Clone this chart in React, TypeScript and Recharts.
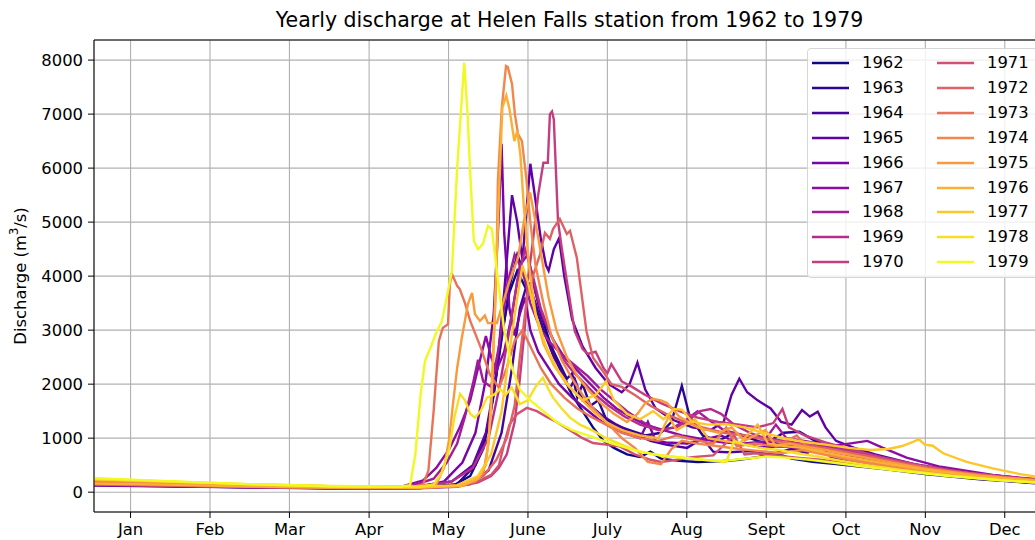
import React from "react";
import { LineChart, Line, XAxis, YAxis, CartesianGrid, ReferenceLine } from "recharts";

// day-of-year, discharge (m3/s)
const Y1962 = [[1,150],[32,120],[60,95],[91,75],[120,70],[138,110],[145,300],[150,800],[154,1800],[157,2900],[160,3700],[163,4100],[166,3800],[169,3900],[172,3300],[176,2700],[180,2200],[184,1800],[188,1500],[192,1200],[196,950],[200,820],[205,700],[210,650],[214,750],[218,620],[225,580],[232,560],[240,570],[248,600],[255,650],[262,720],[268,620],[276,560],[285,520],[295,470],[305,420],[320,330],[340,240],[365,160]];
const Y1963 = [[1,170],[32,135],[60,105],[91,85],[122,80],[140,150],[147,500],[152,1200],[156,2500],[160,3800],[163,4400],[166,4000],[170,3400],[174,2900],[178,2500],[182,2100],[184,2200],[186,1750],[188,2000],[191,1600],[194,1700],[197,1350],[200,1250],[206,1150],[212,1050],[218,1100],[222,1300],[226,1970],[229,1400],[234,1050],[240,950],[246,1100],[252,1000],[258,900],[265,1100],[271,1120],[277,950],[285,780],[295,650],[305,560],[320,420],[340,290],[365,190]];
const Y1964 = [[1,130],[32,110],[60,90],[91,70],[125,70],[145,150],[152,400],[157,1100],[161,2300],[164,3400],[167,3900],[170,3500],[173,3000],[177,2500],[181,2150],[183,1900],[185,2100],[188,1700],[191,1600],[196,1400],[201,1250],[207,1100],[214,950],[220,880],[228,820],[234,1000],[238,750],[244,740],[252,760],[260,700],[268,800],[274,720],[278,950],[283,650],[293,560],[305,470],[320,370],[340,250],[365,150]];
const Y1965 = [[1,140],[32,115],[60,92],[91,75],[120,80],[138,200],[146,500],[151,1100],[155,2200],[158,3700],[161,5500],[163,5000],[165,4300],[166,4900],[168,6080],[170,5400],[172,4700],[174,4200],[175,4100],[177,4500],[179,4700],[181,4000],[184,3200],[188,2700],[193,2300],[198,2000],[203,1850],[206,2000],[209,2400],[212,1900],[216,1550],[222,1350],[230,1200],[237,1150],[242,1300],[245,1800],[248,2100],[251,1850],[255,1700],[260,1550],[264,1300],[268,1250],[272,1520],[275,1400],[278,1490],[281,1200],[285,950],[292,820],[300,700],[315,520],[335,360],[365,210]];
const Y1966 = [[1,125],[32,105],[60,88],[91,72],[125,90],[135,200],[142,550],[147,1100],[151,2100],[154,3300],[156,5200],[157,6450],[158,4800],[160,3400],[162,2900],[164,3300],[166,3600],[168,3000],[171,2600],[175,2300],[179,2000],[184,1750],[189,1550],[194,1350],[199,1200],[205,1080],[210,1000],[213,1300],[216,950],[220,920],[228,900],[235,980],[241,1050],[248,900],[256,830],[265,850],[273,780],[282,720],[292,640],[303,540],[318,420],[338,290],[365,170]];
const Y1967 = [[1,170],[32,140],[60,110],[91,88],[118,95],[127,220],[132,450],[137,800],[141,1200],[145,1700],[148,2300],[151,2890],[153,2500],[155,2250],[158,2600],[161,3300],[164,4200],[167,4400],[170,3700],[173,3200],[177,2800],[181,2500],[186,2250],[191,2000],[196,1750],[201,1550],[206,1400],[212,1250],[219,1150],[226,1050],[234,980],[242,920],[250,900],[258,940],[266,870],[274,820],[282,850],[290,900],[297,950],[303,820],[312,640],[325,470],[345,320],[365,200]];
const Y1968 = [[1,200],[32,160],[60,120],[91,95],[122,105],[131,250],[136,550],[140,900],[143,1400],[146,2000],[148,2450],[150,2050],[153,1950],[156,2700],[159,3800],[162,4400],[165,4100],[168,3500],[172,3000],[176,2750],[180,2550],[185,2350],[190,2150],[195,1900],[200,1700],[205,1500],[211,1300],[217,1150],[223,1200],[228,1350],[232,1500],[236,1350],[242,1150],[250,1050],[258,980],[262,1250],[266,1000],[274,940],[283,860],[293,760],[305,620],[320,460],[340,330],[365,230]];
const Y1969 = [[1,180],[32,150],[60,115],[91,90],[125,100],[138,200],[146,450],[152,1000],[156,1900],[160,3000],[163,3900],[166,4500],[169,4000],[172,3400],[176,2900],[180,2500],[184,2250],[188,2050],[193,1800],[198,1600],[204,1400],[210,1250],[217,1150],[224,1200],[229,1350],[233,1500],[237,1540],[241,1450],[246,1250],[252,1100],[258,1000],[265,950],[272,900],[280,840],[290,760],[302,640],[318,480],[338,340],[365,220]];
const Y1970 = [[1,160],[32,130],[60,100],[91,80],[125,70],[140,100],[148,180],[153,300],[156,450],[159,700],[162,1300],[164,2100],[166,3100],[167,3900],[169,4650],[171,5500],[173,6100],[174.7,6100],[175.5,7000],[176.3,7050],[177,6900],[178.6,5020],[180,4530],[182,3900],[185,2980],[188,2650],[190,2560],[193,2600],[196,2300],[197.5,2200],[199,2370],[203,2050],[207,1950],[212,1800],[218,1650],[225,1500],[232,1380],[240,1300],[248,1250],[255,1200],[261,1280],[264.5,1540],[267,1200],[273,1050],[281,920],[290,800],[302,650],[318,490],[338,340],[365,210]];
const Y1971 = [[1,150],[32,125],[60,100],[91,80],[125,75],[140,110],[148,200],[153,320],[156,500],[158,900],[160,1250],[163,1450],[166.7,1560],[170.5,1500],[174,1400],[178,1300],[183,1150],[188,1000],[192,910],[197,880],[202,850],[208,700],[214,600],[218,560],[224,600],[230,650],[238,680],[246,1050],[250,700],[254,720],[262,680],[270,640],[279,600],[288,540],[298,480],[312,400],[330,300],[348,230],[365,170]];
const Y1972 = [[1,140],[32,120],[60,95],[91,78],[125,75],[142,120],[150,300],[155,600],[159,1000],[162,1600],[164,2500],[166.7,3600],[169,4000],[171.7,4400],[173.6,4800],[175.5,4690],[176.7,4870],[179.3,5060],[182,4780],[183.2,4840],[185.8,4340],[187,3900],[189.5,2980],[192,2490],[195.8,2240],[199,2000],[203,1950],[208,1800],[214,1600],[220,1450],[227,1300],[234,1200],[242,1100],[250,1050],[258,980],[266,920],[275,860],[285,780],[296,680],[310,540],[328,400],[348,280],[365,200]];
const Y1973 = [[1,190],[32,150],[60,115],[91,90],[122,85],[127,150],[129,400],[131,1500],[133,2800],[134.5,3040],[136.5,3110],[137.2,3850],[138,4040],[140,3820],[141,3760],[143,3500],[145,3170],[149,2680],[152.5,2180],[156,1930],[159,2300],[162,2800],[165,3000],[168,2700],[172,2300],[176,2000],[181,1750],[186,1550],[191,1400],[197,1250],[203,1100],[210,1000],[217,950],[224,1050],[230,980],[238,900],[243,1200],[247,850],[254,900],[262,850],[270,1050],[275,780],[282,720],[292,620],[305,520],[320,400],[340,280],[365,180]];
const Y1974 = [[1,210],[32,170],[60,130],[91,100],[125,90],[140,110],[147,200],[150,350],[152,900],[153.5,2200],[155,4000],[155.6,5760],[157.1,7120],[158.7,7890],[159.4,7870],[161,7560],[162.1,7000],[163.3,6630],[164.8,6500],[166.5,5800],[168,5000],[170,4200],[173,3500],[176,2900],[180,2450],[184,2100],[188,1800],[193,1500],[198,1250],[203,1000],[208,820],[213,560],[218,520],[222,800],[226,950],[232,900],[240,850],[248,800],[256,760],[264,720],[272,780],[280,700],[290,600],[302,500],[318,390],[338,270],[365,160]];
const Y1975 = [[1,230],[32,180],[60,140],[91,110],[125,100],[132,150],[135,450],[137,1000],[138.4,1630],[140,2300],[141.8,2860],[144.1,3480],[145.7,3690],[146.8,3300],[148.7,3170],[150.6,3270],[151.8,3130],[155.2,3130],[157.5,3500],[160,3900],[163.3,4340],[165.5,5000],[167.9,5550],[170,5000],[172.5,4300],[175,3600],[178,3000],[182,2500],[186,2150],[190,1900],[195,1650],[200,1450],[205,1300],[209,1450],[212,1650],[214.9,1730],[218,1700],[220.3,1650],[225,1400],[232,1200],[240,1100],[245,1200],[250,950],[258,1150],[262,850],[267,900],[272,850],[281,780],[292,680],[305,560],[320,430],[340,310],[365,210]];
const Y1976 = [[1,160],[32,135],[60,105],[91,85],[125,80],[142,120],[148,250],[151,500],[153,1500],[154.5,3500],[156,5500],[157.3,7120],[158.8,7340],[160,7100],[161.1,6750],[161.9,6500],[163,6690],[164.2,6250],[165.5,5300],[167.5,4200],[170,3300],[173,2750],[177,2350],[182,2000],[187,1750],[192,1500],[197,1300],[203,1150],[210,1050],[217,1000],[221,1400],[224,1150],[231,1350],[236,1000],[242,950],[248,900],[255,1250],[259,900],[266,850],[272,820],[280,740],[291,640],[304,530],[320,410],[340,290],[365,190]];
const Y1977 = [[1,240],[32,190],[60,145],[91,110],[125,95],[140,130],[148,300],[153,700],[157,1500],[160,2600],[163,3600],[165,4200],[167,3900],[170,3300],[174,2700],[178,2300],[183,1950],[188,1700],[193,1800],[197,2050],[200,1700],[205,1450],[210,1350],[215,1500],[219,1350],[223,1540],[226,1530],[230,1300],[236,1250],[243,1260],[250,1200],[257,1100],[265,1000],[273,930],[281,880],[290,820],[298,780],[305,800],[310,850],[314,920],[316.7,980],[319,880],[322,860],[326,720],[335,560],[345,440],[355,340],[365,260]];
const Y1978 = [[1,250],[32,195],[60,150],[91,115],[125,100],[131,140],[134,350],[137,800],[139,1400],[141.1,1820],[143,1700],[145,1450],[146.8,1380],[149,1500],[151.4,1750],[154,1800],[156.4,1910],[158.5,1800],[160.9,1940],[164,1630],[167,1700],[170,1950],[172.8,2120],[175,1900],[176.7,1750],[180,1550],[183.2,1380],[187,1250],[192,1140],[197,1000],[202,900],[208,780],[215,700],[222,660],[230,620],[238,580],[243,560],[246,950],[250,880],[256,820],[263,780],[270,720],[278,660],[287,580],[297,500],[310,410],[328,310],[348,220],[365,170]];
const Y1979 = [[1,260],[32,200],[60,150],[91,110],[118,100],[122,130],[124,700],[126,1800],[127.7,2430],[130,2700],[132,2950],[134.2,3170],[136,3600],[138,4100],[140,6000],[142.7,7955],[144,7000],[144.9,6000],[146.4,4650],[148,4500],[149.9,4600],[151.8,4930],[153.3,4870],[155.2,4100],[158,3000],[161,2300],[164,1900],[168,1700],[173,1500],[178,1300],[184,1150],[190,1050],[196,950],[203,850],[210,750],[218,680],[226,640],[234,600],[242,580],[250,620],[258,660],[266,640],[275,600],[285,540],[296,470],[310,390],[328,300],[348,220],[365,170]];

const YEARS = ["1962","1963","1964","1965","1966","1967","1968","1969","1970","1971","1972","1973","1974","1975","1976","1977","1978","1979"];
const SERIES = [Y1962,Y1963,Y1964,Y1965,Y1966,Y1967,Y1968,Y1969,Y1970,Y1971,Y1972,Y1973,Y1974,Y1975,Y1976,Y1977,Y1978,Y1979];
// plasma colormap, 18 steps
const COLORS = ["#0d0887","#2c0594","#48039f","#6001a5","#7705a7","#8d0ca4","#a11c99","#b42d8d","#c43e7f","#d25072","#de6165","#e97357","#f3864a","#f89a3d","#fcaf32","#fcc728","#f7e023","#f0f921"];

const MONTHS = ["Jan","Feb","Mar","Apr","May","June","July","Aug","Sept","Oct","Nov","Dec"];
const MONTH_TICKS = [15,45.4,75.8,106.3,136.7,167.1,197.5,227.9,258.3,288.8,319.2,349.6];
const Y_TICKS = [0,1000,2000,3000,4000,5000,6000,7000,8000];
const Y_MIN = -367;
const Y_MAX = 8372;

const FONT = "DejaVu Sans";
const tickStyle = { fontSize: 16.4, fill: "#000", fontFamily: FONT };

const toPts = (arr: number[][]) => arr.map(([d, v]) => ({ d, v }));

function YLabel() {
  return (
    <text x={20} y={276} transform="rotate(-90 20 276)" textAnchor="middle" dominantBaseline="central"
      fontSize={16.4} fontFamily={FONT} fill="#000">
      Discharge (m<tspan dy={-6} fontSize={11.5}>3</tspan><tspan dy={6}>/s)</tspan>
    </text>
  );
}

function LegendBox() {
  return (
    <div style={{
      position: "absolute", left: 807, top: 48, width: 232, height: 230, boxSizing: "border-box",
      border: "1px solid #d6d6d6", borderRadius: 4, background: "rgba(255,255,255,0.8)",
      fontFamily: FONT, fontSize: 16.4, color: "#000",
    }}>
      {YEARS.map((y, i) => {
        const col = i < 9 ? 0 : 1;
        const row = i % 9;
        const cy = Math.round(14 + row * 24.9);
        const left = col === 0 ? 4 : 129;
        return (
          <div key={y} style={{ position: "absolute", left, top: cy - 10, height: 20, display: "flex", alignItems: "center" }}>
            <svg width={37} height={20} style={{ display: "block" }}>
              <line x1={0} x2={37} y1={10} y2={10} stroke={COLORS[i]} strokeWidth={2.4} />
            </svg>
            <span style={{ marginLeft: 13, lineHeight: "20px" }}>{y}</span>
          </div>
        );
      })}
    </div>
  );
}

export default function App() {
  return (
    <div style={{ position: "fixed", left: 0, top: 0, width: 1035, height: 540, overflow: "hidden", background: "#fff" }}>
      <div style={{
        position: "absolute", left: 94, width: 951, top: 7, textAlign: "center",
        fontFamily: FONT, fontSize: 20.5, lineHeight: "27px", color: "#000",
      }}>
        Yearly discharge at Helen Falls station from 1962 to 1979
      </div>
      <LineChart width={1050} height={540} margin={{ top: 40, right: 5, bottom: 0, left: 0 }}>
        <CartesianGrid stroke="#b0b0b0" strokeWidth={1.1} />
        <XAxis type="number" dataKey="d" domain={[1, 365]} ticks={MONTH_TICKS} allowDataOverflow
          tickFormatter={(v: number) => MONTHS[MONTH_TICKS.indexOf(v)] ?? ""}
          height={28} tickSize={6} tickMargin={5} tick={tickStyle}
          axisLine={{ stroke: "#000", strokeWidth: 1 }} tickLine={{ stroke: "#000" }} interval={0} />
        <YAxis type="number" domain={[Y_MIN, Y_MAX]} ticks={Y_TICKS} allowDataOverflow
          width={94} tickSize={6} tickMargin={5} tick={tickStyle} interval={0}
          axisLine={{ stroke: "#000", strokeWidth: 1 }} tickLine={{ stroke: "#000" }}
          label={{ content: () => <YLabel /> }} />
        <ReferenceLine y={Y_MAX} stroke="#000" strokeWidth={1} ifOverflow="extendDomain" />
        {SERIES.map((s, i) => (
          <Line key={YEARS[i]} data={toPts(s)} dataKey="v" name={YEARS[i]} type="linear"
            stroke={COLORS[i]} strokeWidth={2.4} dot={false} activeDot={false} isAnimationActive={false} />
        ))}
      </LineChart>
      <LegendBox />
    </div>
  );
}
